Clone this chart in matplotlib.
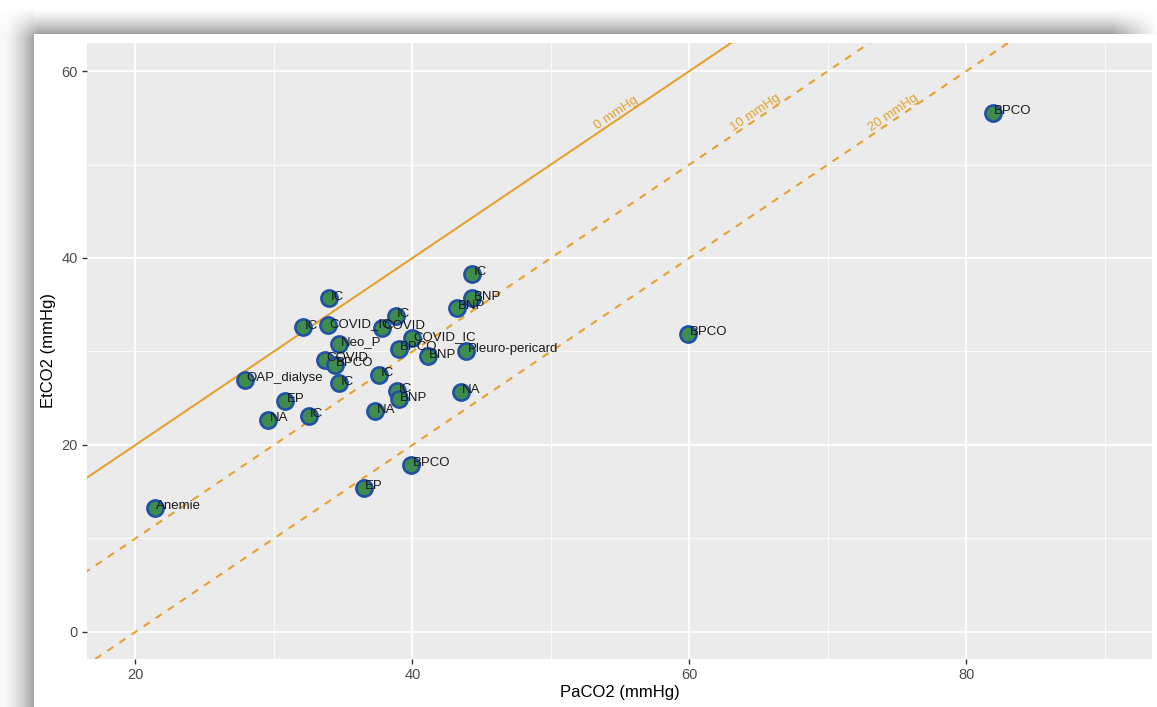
import numpy as np
import matplotlib
matplotlib.use("Agg")
import matplotlib.pyplot as plt
from matplotlib.ticker import MultipleLocator

# ==========================================
# Data
# ==========================================

labels = ["Anemie", "BPCO", "BPCO", "BPCO", "EP", "NA", "IC", "EP",
          "OAP_dialyse", "IC", "IC", "COVID_IC", "Neo_P", "COVID", "BPCO",
          "IC", "IC", "NA", "IC", "BNP", "IC", "COVID", "BPCO", "COVID_IC",
          "BNP", "Pleuro-pericard", "NA", "BNP", "BNP", "IC"]

paco2 = [21.4, 81.9, 59.9, 39.9, 36.5, 29.6, 32.5, 30.8,
         27.9, 32.1, 34.0, 33.9, 34.7, 33.7, 34.4,
         34.7, 37.6, 37.3, 38.9, 39.0, 38.8, 37.8, 39.0, 40.0,
         41.1, 43.9, 43.5, 43.2, 44.3, 44.3]

etco2 = [13.3, 55.5, 31.9, 17.9, 15.4, 22.7, 23.1, 24.7,
         27.0, 32.6, 35.7, 32.8, 30.8, 29.1, 28.6,
         26.6, 27.5, 23.6, 25.8, 24.9, 33.8, 32.5, 30.3, 31.4,
         29.5, 30.1, 25.7, 34.7, 35.7, 38.3]

gap_values = [0, 10, 20]
gap_labels = ["0 mmHg", "10 mmHg", "20 mmHg"]
gap_label_x = [55, 65, 75]

# ==========================================
# Figure
# ==========================================

plt.rcParams["font.family"] = ["Liberation Sans", "DejaVu Sans"]

W, H = 1157, 707
fig = plt.figure(figsize=(W / 100, H / 100), dpi=100)
fig.patch.set_facecolor("white")

# soft drop shadow along the top and left edges (screenshot look)
xs = np.arange(W)[None, :].astype(float)
ys = np.arange(H)[:, None].astype(float)
left = np.where(xs < 34, 0.03 + 0.32 * np.clip((xs - 4) / 29, 0, 1) ** 1.5, 0)
top = np.where(ys < 34, 0.36 * np.clip((ys - 9) / 24, 0, 1) ** 1.3, 0)
ry = np.clip((ys - 8) / 30, 0, 1)
rx = np.clip((xs - 8) / 30, 0, 1) * np.clip((W - xs) / 45, 0, 1)
shade = np.maximum(left * ry, top * rx)
img = np.repeat((1 - shade)[:, :, None], 3, axis=2)
fig.figimage(img, xo=0, yo=0, origin="upper", zorder=-10)

ax = fig.add_axes([87 / W, 48 / H, (1152 - 87) / W, (659 - 43) / H])
ax.set_facecolor("#EBEBEB")

ax.set_xlim(16.5, 93.4)
ax.set_ylim(-2.9, 63.0)

ax.xaxis.set_major_locator(MultipleLocator(20))
ax.xaxis.set_minor_locator(MultipleLocator(10))
ax.yaxis.set_major_locator(MultipleLocator(20))
ax.yaxis.set_minor_locator(MultipleLocator(10))
ax.grid(which="major", color="white", linewidth=1.3)
ax.grid(which="minor", color="white", linewidth=0.6)
ax.set_axisbelow(True)
for s in ax.spines.values():
    s.set_visible(False)
ax.tick_params(which="major", length=3.5, width=1, color="#333333",
               labelcolor="#4D4D4D", labelsize=10.5, pad=3)
ax.tick_params(which="minor", length=0)

# ==========================================
# Reference lines
# ==========================================

line_x = np.array([0, 100])
for gap, lab, lx in zip(gap_values, gap_labels, gap_label_x):
    ls = "-" if gap == 0 else (0, (3.5, 3.5))
    ax.plot(line_x, line_x - gap, color="#E3A12F", linewidth=1.5,
            linestyle=ls, zorder=2)
    ax.text(lx, lx - gap, lab, color="#E0A030", fontsize=9.5,
            rotation=45, rotation_mode="anchor", transform_rotates_text=True,
            ha="center", va="bottom", zorder=3)

# ==========================================
# Points and labels
# ==========================================

ax.scatter(paco2, etco2, s=135, facecolor="#3E8C4E", edgecolor="#1F50A5",
           linewidth=1.9, zorder=4)

for lab, x, y in zip(labels, paco2, etco2):
    ax.annotate(lab, (x, y), xytext=(1, -1), textcoords="offset points",
                ha="left", va="baseline", fontsize=9.5, color="#1a1a1a",
                zorder=5)

ax.set_xlabel("PaCO2 (mmHg)", fontsize=12, labelpad=2)
ax.set_ylabel("EtCO2 (mmHg)", fontsize=12, labelpad=4)

fig.savefig("out.png", dpi=100)
